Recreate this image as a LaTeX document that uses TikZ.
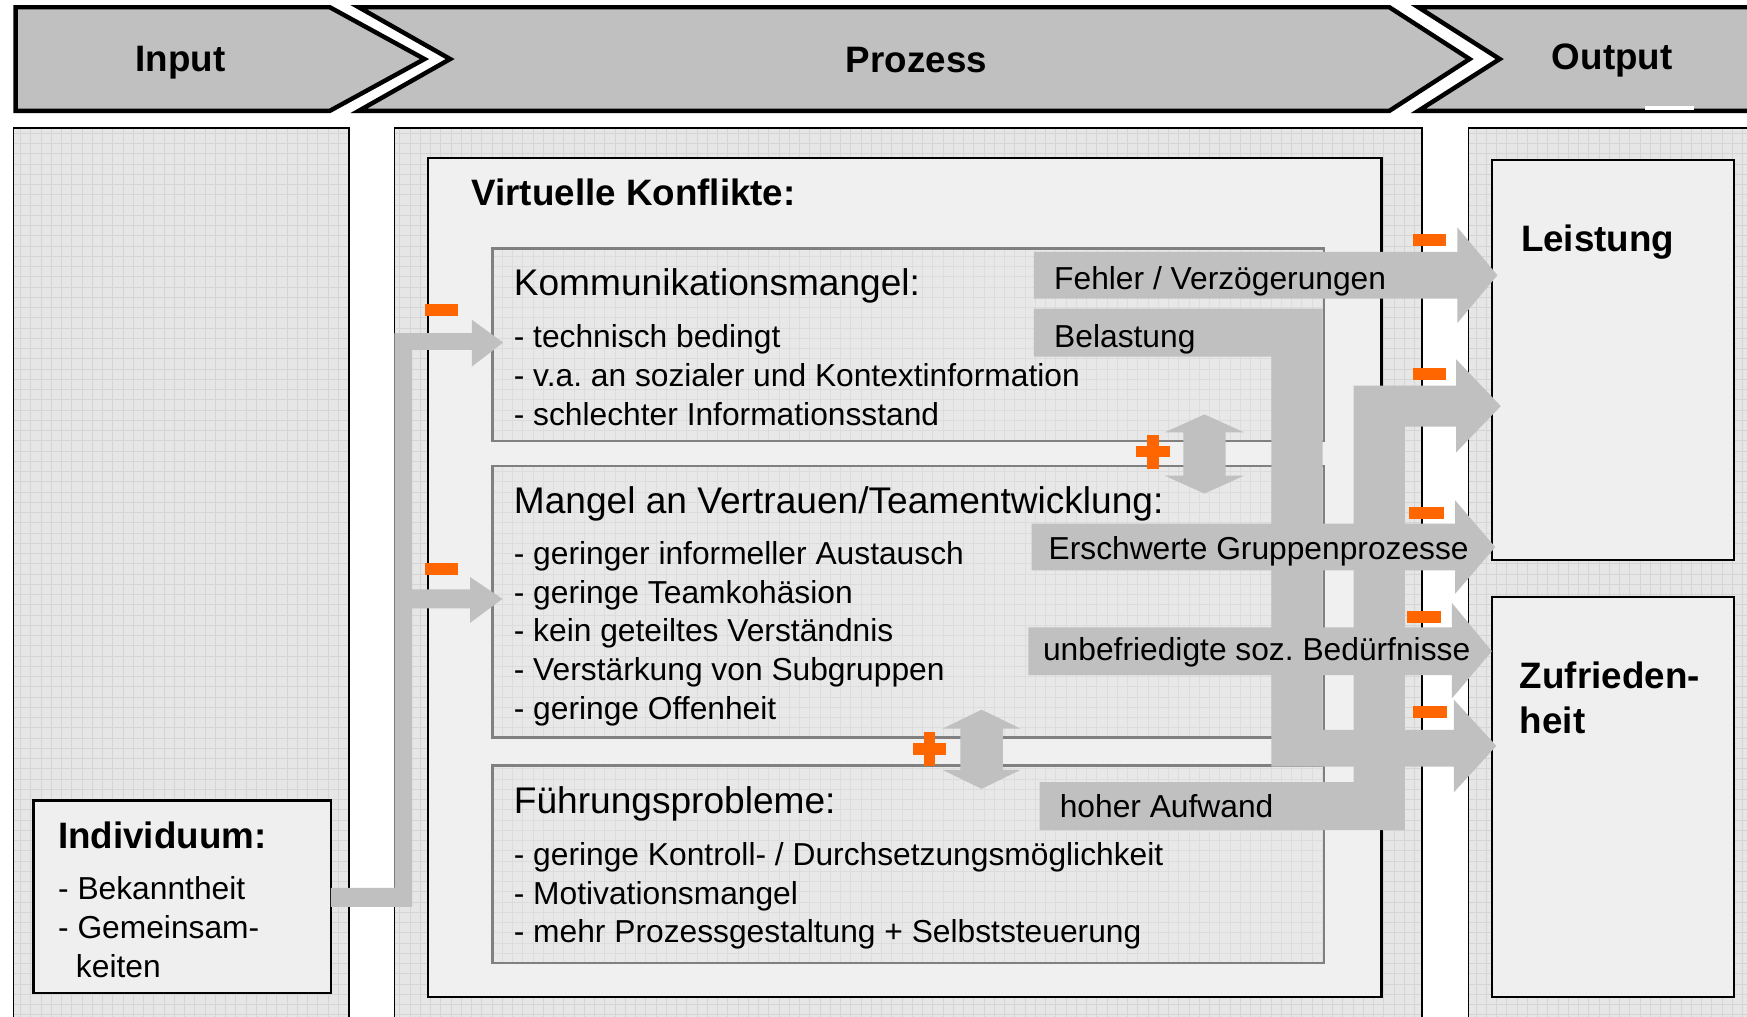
\documentclass[tikz,border=0pt]{standalone}
\usepackage{fontspec}
\setmainfont{Liberation Sans}
\definecolor{hdrgray}{HTML}{C0C0C0}
\definecolor{bandgray}{HTML}{C0C0C0}
\definecolor{panelbg}{HTML}{E6E6E6}
\definecolor{gridln}{HTML}{D5D5D5}
\definecolor{subbg}{HTML}{E8E8E8}
\definecolor{subgrid}{HTML}{DCDCDC}
\definecolor{boxbg}{HTML}{EFEFEF}
\definecolor{innerbg}{HTML}{F0F0F0}
\definecolor{subedge}{HTML}{808080}
\definecolor{signorange}{HTML}{FF6600}

% light grid texture inside a rectangle: #1,#2 = corner, #3,#4 = opposite corner, #5 = line colour
\newcommand\gridpatch[5]{%
  \begin{scope}
    \clip (#1,#2) rectangle (#3,#4);
    \foreach \gx in {0,9.2,...,1580} \draw[#5,line width=0.7pt] (\gx,#2) -- (\gx,#4);
    \foreach \gy in {0,9.2,...,930} \draw[#5,line width=0.7pt] (#1,\gy) -- (#3,\gy);
  \end{scope}}

\begin{document}
\frenchspacing
\begin{tikzpicture}[x=1pt,y=-1pt,
  hdr/.style={fill=hdrgray,draw=black,line width=4pt,line join=miter},
  panel/.style={draw=black,line width=1.5pt},
  inner/.style={fill=innerbg,draw=black,line width=2pt},
  subbox/.style={draw=subedge,line width=2pt},
  outbox/.style={fill=boxbg,draw=black,line width=2pt},
  band/.style={fill=bandgray,draw=none},
  sign/.style={fill=signorange,draw=none},
  hdrtext/.style={font=\fontsize{33}{40}\selectfont\bfseries,anchor=base,inner sep=0pt},
  boldtitle/.style={font=\fontsize{33}{40}\selectfont\bfseries,anchor=base west,inner sep=0pt},
  subtitle/.style={font=\fontsize{33.3}{40}\selectfont,anchor=base west,inner sep=0pt},
  item/.style={font=\fontsize{28.5}{35}\selectfont,anchor=base west,inner sep=0pt},
  label/.style={font=\fontsize{28.5}{35}\selectfont,anchor=base west,inner sep=0pt}]

\useasboundingbox (0,0) rectangle (1568,912);
\clip (0,0) rectangle (1568,912);
\fill[white] (0,0) rectangle (1568,912);

% ---- three column panels with grid texture
\fill[panelbg] (12,115) rectangle (313,930);
\gridpatch{12}{115}{313}{930}{gridln}
\draw[panel] (12,115) rectangle (313,930);
\fill[panelbg] (354,115) rectangle (1276,930);
\gridpatch{354}{115}{1276}{930}{gridln}
\draw[panel] (354,115) rectangle (1276,930);
\fill[panelbg] (1318,115) rectangle (1600,930);
\gridpatch{1318}{115}{1600}{930}{gridln}
\draw[panel] (1318,115) rectangle (1600,930);

% ---- header chevrons
\draw[hdr] (14,6.5) -- (296,6.5) -- (381,53) -- (296,99.5) -- (14,99.5) -- cycle;
\draw[hdr] (322,6.5) -- (1247,6.5) -- (1319,53) -- (1247,99.5) -- (322,99.5) -- (404,53) -- cycle;
\draw[hdr] (1273,6.5) -- (1610,6.5) -- (1610,99.5) -- (1273,99.5) -- (1346,53) -- cycle;
\fill[white] (1476,95.5) rectangle (1520,98.5);
\node[hdrtext] (hin) at (162,64) {Input};
\node[hdrtext] (hpr) at (822.5,65) {Prozess};
\node[hdrtext] (hout) at (1447,62) {Output};

% ---- conflict frame and its three sub-boxes
\draw[inner] (384,141.5) rectangle (1240,895);
\node[boldtitle] (vk) at (423,184) {Virtuelle Konflikte:};

\fill[subbg] (442,223) rectangle (1188,395.5);
\gridpatch{442}{223}{1188}{395.5}{subgrid}
\draw[subbox] (442,223) rectangle (1188,395.5);
\fill[subbg] (442,418) rectangle (1188,662);
\gridpatch{442}{418}{1188}{662}{subgrid}
\draw[subbox] (442,418) rectangle (1188,662);
\fill[subbg] (442,687) rectangle (1188,864);
\gridpatch{442}{687}{1188}{864}{subgrid}
\draw[subbox] (442,687) rectangle (1188,864);

% ---- input and output boxes
\draw[outbox] (30,718.5) rectangle (297,891);
\draw[outbox] (1339,143.5) rectangle (1556,502.5);
\draw[outbox] (1339,535.5) rectangle (1556,894.5);

% ---- connector from Individuum to the first two conflict boxes
\fill[band] (297,797) -- (354,797) -- (354,299) -- (423.5,299) -- (423.5,287)
  -- (451.6,307.5) -- (423.5,329) -- (423.5,314) -- (370,314) -- (370,529)
  -- (422,529) -- (422,518) -- (451,537.5) -- (422,559) -- (422,546)
  -- (370,546) -- (370,814) -- (297,814) -- cycle;

% ---- effect bands towards the outputs
% Belastung: down and into Zufriedenheit
\fill[band] (928,277) -- (1187,277) -- (1187,655) -- (1305,655) -- (1305,628)
  -- (1343,669.5) -- (1305,711) -- (1305,688) -- (1141,688) -- (1141,320)
  -- (928,320) -- cycle;
% hoher Aufwand: up and into Leistung
\fill[band] (933,702) -- (1215,702) -- (1215,346) -- (1307,346) -- (1307,322.5)
  -- (1347,364.5) -- (1307,406) -- (1307,383) -- (1261,383) -- (1261,745)
  -- (933,745) -- cycle;
% Fehler / Verzoegerungen
\fill[band] (928,226) -- (1308,226) -- (1308,204) -- (1344,247) -- (1308,290)
  -- (1308,268) -- (928,268) -- cycle;
% Erschwerte Gruppenprozesse
\fill[band] (926,470) -- (1306,470) -- (1306,449) -- (1342,491) -- (1306,533)
  -- (1306,512) -- (926,512) -- cycle;
% unbefriedigte soz. Beduerfnisse
\fill[band] (923,563) -- (1303,563) -- (1303,541) -- (1339,584.5) -- (1303,627)
  -- (1303,606) -- (923,606) -- cycle;

% ---- double arrows between conflict boxes
\fill[band] (1081,372) -- (1116.5,388) -- (1100,388) -- (1100,427) -- (1116.5,427)
  -- (1081,443) -- (1045.5,427) -- (1062,427) -- (1062,388) -- (1045.5,388) -- cycle;
\fill[band] (881,637) -- (916,654) -- (900,654) -- (900,691) -- (916,691)
  -- (881,708) -- (846,691) -- (862,691) -- (862,654) -- (846,654) -- cycle;

% ---- orange signs
\fill[sign] (1020,400.3) rectangle (1050,410.6);
\fill[sign] (1029.8,390.4) rectangle (1040,421);
\fill[sign] (819,667) rectangle (849,677.2);
\fill[sign] (829,657) rectangle (839.2,687.2);
\fill[sign] (381,273) rectangle (411.5,283.5);
\fill[sign] (381,505) rectangle (411.5,516);
\fill[sign] (1268,210.3) rectangle (1298,220.5);
\fill[sign] (1268,330.6) rectangle (1298,341);
\fill[sign] (1265,455.3) rectangle (1296,465.5);
\fill[sign] (1263,548.4) rectangle (1293,559);
\fill[sign] (1268,633.6) rectangle (1299,644.1);

% ---- texts
\node[subtitle] (km) at (461,265) {Kommunikationsmangel:};
\node[item] at (461,312) {- technisch bedingt};
\node[item] at (461,347) {- v.a. an sozialer und Kontextinformation};
\node[item] at (461,382) {- schlechter Informationsstand};

\node[subtitle] (mv) at (461,461) {Mangel an Vertrauen/Teamentwicklung:};
\node[item] at (461,507) {- geringer informeller Austausch};
\node[item] at (461,542) {- geringe Teamkohäsion};
\node[item] at (461,576) {- kein geteiltes Verständnis};
\node[item] at (461,611) {- Verstärkung von Subgruppen};
\node[item] at (461,646) {- geringe Offenheit};

\node[subtitle] (fp) at (461,730) {Führungsprobleme:};
\node[item] at (461,777) {- geringe Kontroll- / Durchsetzungsmöglichkeit};
\node[item] at (461,812) {- Motivationsmangel};
\node[item] at (461,846) {- mehr Prozessgestaltung + Selbststeuerung};

\node[boldtitle] (ind) at (52,762) {Individuum:};
\node[item] at (52,807) {- Bekanntheit};
\node[item] at (52,842) {- Gemeinsam-};
\node[item] at (68,877) {keiten};

\node[boldtitle] (lst) at (1365,226) {Leistung};
\node[boldtitle] (zuf) at (1364,618) {Zufrieden-};
\node[boldtitle] at (1364,658) {heit};

\node[label] (lfe) at (946,260) {Fehler / Verzögerungen};
\node[label] (lbe) at (946,312) {Belastung};
\node[label] (ler) at (941,502) {Erschwerte Gruppenprozesse};
\node[label] (lun) at (936,593) {unbefriedigte soz. Bedürfnisse};
\node[label] (lho) at (951,734) {hoher Aufwand};
\end{tikzpicture}
\end{document}
